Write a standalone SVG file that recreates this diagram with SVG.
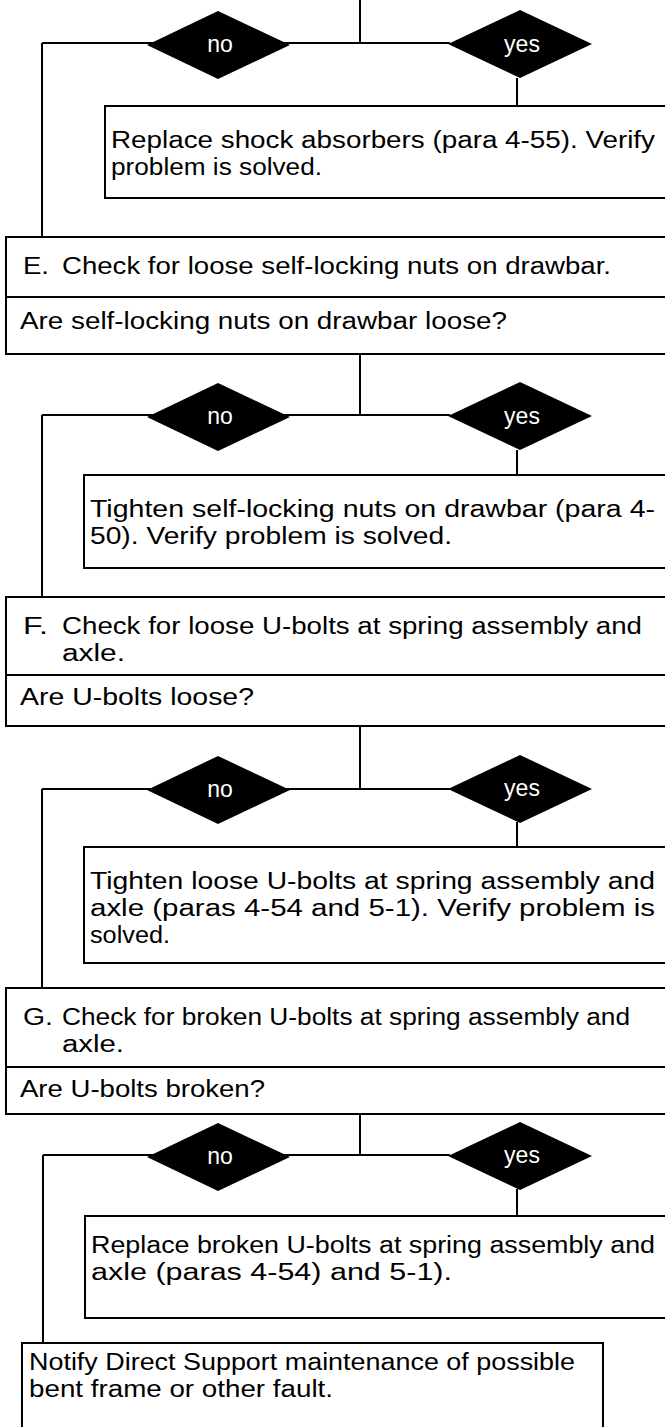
<svg xmlns="http://www.w3.org/2000/svg" width="665" height="1427" viewBox="0 0 665 1427">
<style>
.box{fill:#fff;stroke:#000;stroke-width:2}
.ln{fill:none;stroke:#000;stroke-width:2}
.dia{fill:#000;stroke:none}
.t{font-family:"Liberation Sans",Arial,sans-serif;font-size:23px;fill:#000}
.lbl{font-family:"Liberation Sans",Arial,sans-serif;font-size:23px;fill:#fff;text-anchor:middle}
</style>
<rect width="665" height="1427" fill="#fff"/>
<g id="connectors">
<path class="ln" d="M360 0V43M42 43H450M42 43V237M517 78V106"/>
<path class="ln" d="M360 354V415M42 415H450M42 415V597M517 450V475"/>
<path class="ln" d="M360 726V789M42 789H450M42 789V988M517 822V847"/>
<path class="ln" d="M360 1114V1155M43 1155H450M43 1155V1343M517 1189V1216"/>
</g>
<g id="d1no"><polygon class="dia" points="147,45 218,11 290,45 218,79"/><text class="lbl" x="220" y="52">no</text></g>
<g id="d1yes"><polygon class="dia" points="448,44 520,10 592,44 520,78"/><text class="lbl" x="522" y="52">yes</text></g>
<g id="b1"><rect class="box" x="105" y="106" width="568" height="92"/>
<text class="t" x="111" y="148" textLength="544" lengthAdjust="spacingAndGlyphs">Replace shock absorbers (para 4-55).  Verify</text>
<text class="t" x="111" y="175" textLength="211" lengthAdjust="spacingAndGlyphs">problem is solved.</text></g>
<g id="bE"><rect class="box" x="6" y="237" width="667" height="117"/><path class="ln" d="M6 297H673"/>
<text class="t" x="23" y="274" textLength="26" lengthAdjust="spacingAndGlyphs">E.</text>
<text class="t" x="62" y="274" textLength="549" lengthAdjust="spacingAndGlyphs">Check for loose self-locking nuts on drawbar.</text>
<text class="t" x="20" y="329" textLength="487" lengthAdjust="spacingAndGlyphs">Are self-locking nuts on drawbar loose?</text></g>
<g id="d2no"><polygon class="dia" points="147,417 218,383 290,417 218,451"/><text class="lbl" x="220" y="424">no</text></g>
<g id="d2yes"><polygon class="dia" points="448,416 520,382 592,416 520,450"/><text class="lbl" x="522" y="424">yes</text></g>
<g id="b2"><rect class="box" x="84" y="475" width="589" height="93"/>
<text class="t" x="90" y="517" textLength="565" lengthAdjust="spacingAndGlyphs">Tighten self-locking nuts on drawbar (para 4-</text>
<text class="t" x="90" y="544" textLength="362" lengthAdjust="spacingAndGlyphs">50).  Verify problem is solved.</text></g>
<g id="bF"><rect class="box" x="6" y="597" width="667" height="129"/><path class="ln" d="M6 675H673"/>
<text class="t" x="23" y="634" textLength="25" lengthAdjust="spacingAndGlyphs">F.</text>
<text class="t" x="62" y="634" textLength="580" lengthAdjust="spacingAndGlyphs">Check for loose U-bolts at spring assembly and</text>
<text class="t" x="62" y="661" textLength="63" lengthAdjust="spacingAndGlyphs">axle.</text>
<text class="t" x="20" y="705" textLength="234" lengthAdjust="spacingAndGlyphs">Are U-bolts loose?</text></g>
<g id="d3no"><polygon class="dia" points="147,790 218,756 290,790 218,824"/><text class="lbl" x="220" y="797">no</text></g>
<g id="d3yes"><polygon class="dia" points="448,789 520,755 592,789 520,823"/><text class="lbl" x="522" y="796">yes</text></g>
<g id="b3"><rect class="box" x="84" y="847" width="589" height="116"/>
<text class="t" x="90" y="889" textLength="565" lengthAdjust="spacingAndGlyphs">Tighten loose U-bolts at spring assembly and</text>
<text class="t" x="90" y="916" textLength="565" lengthAdjust="spacingAndGlyphs">axle (paras 4-54 and 5-1).  Verify problem is</text>
<text class="t" x="90" y="943" textLength="80" lengthAdjust="spacingAndGlyphs">solved.</text></g>
<g id="bG"><rect class="box" x="6" y="988" width="667" height="126"/><path class="ln" d="M6 1067H673"/>
<text class="t" x="23" y="1025" textLength="30" lengthAdjust="spacingAndGlyphs">G.</text>
<text class="t" x="62" y="1025" textLength="568" lengthAdjust="spacingAndGlyphs">Check for broken U-bolts at spring assembly and</text>
<text class="t" x="62" y="1052" textLength="62" lengthAdjust="spacingAndGlyphs">axle.</text>
<text class="t" x="20" y="1097" textLength="245" lengthAdjust="spacingAndGlyphs">Are U-bolts broken?</text></g>
<g id="d4no"><polygon class="dia" points="147,1157 218,1123 290,1157 218,1191"/><text class="lbl" x="220" y="1164">no</text></g>
<g id="d4yes"><polygon class="dia" points="448,1156 520,1122 592,1156 520,1190"/><text class="lbl" x="522" y="1163">yes</text></g>
<g id="b4"><rect class="box" x="85" y="1216" width="588" height="102"/>
<text class="t" x="91" y="1253" textLength="564" lengthAdjust="spacingAndGlyphs">Replace broken U-bolts at spring assembly and</text>
<text class="t" x="91" y="1280" textLength="361" lengthAdjust="spacingAndGlyphs">axle (paras 4-54) and 5-1).</text></g>
<g id="bN"><rect class="box" x="22" y="1343" width="581" height="100"/>
<text class="t" x="29" y="1370" textLength="546" lengthAdjust="spacingAndGlyphs">Notify Direct Support maintenance of possible</text>
<text class="t" x="29" y="1397" textLength="304" lengthAdjust="spacingAndGlyphs">bent frame or other fault.</text></g>
</svg>
